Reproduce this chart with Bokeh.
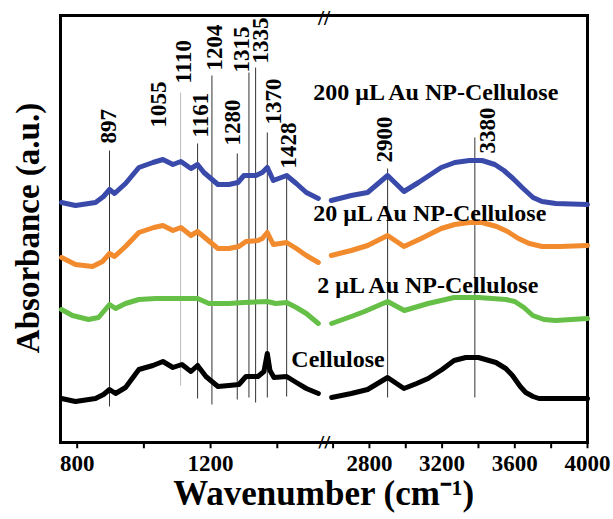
import numpy as np
from math import pi
from bokeh.plotting import figure
from bokeh.models import Range1d, FixedTicker, CustomJSTickFormatter, LinearAxis
from bokeh.core.properties import value
from bokeh.embed import file_html
from bokeh.resources import INLINE

# ---------------- data (wavenumber in cm-1, absorbance in a.u., offset stacked) -------------
# Cellulose
cel_wn_l = [753, 795, 855, 879, 897, 915, 945, 985, 1027, 1057, 1087, 1114, 1141, 1161, 1186,
            1222, 1255, 1285, 1306, 1342, 1360, 1370, 1378, 1390, 1428, 1457, 1487, 1523]
cel_ab_l = [0.44, 0.41, 0.44, 0.48, 0.53, 0.49, 0.55, 0.73, 0.77, 0.81, 0.75, 0.78, 0.71, 0.77, 0.66,
            0.56, 0.57, 0.58, 0.66, 0.66, 0.71, 0.89, 0.72, 0.65, 0.66, 0.60, 0.54, 0.49]
cel_wn_r = [2592, 2700, 2790, 2900, 2990, 3060, 3123, 3200, 3266, 3330, 3400, 3496, 3550, 3587,
            3630, 3660, 3700, 3733, 3850, 4000]
cel_ab_r = [0.45, 0.49, 0.53, 0.65, 0.54, 0.59, 0.64, 0.73, 0.82, 0.85, 0.85, 0.80, 0.74, 0.67,
            0.56, 0.50, 0.46, 0.44, 0.44, 0.44]

# 2 uL Au NP-Cellulose
s2_wn_l = [753, 786, 834, 864, 897, 915, 945, 985, 1036, 1135, 1161, 1195, 1255, 1300, 1370,
           1395, 1428, 1457, 1487, 1523]
s2_ab_l = [1.33, 1.27, 1.23, 1.25, 1.38, 1.34, 1.39, 1.43, 1.44, 1.44, 1.44, 1.39, 1.39, 1.40, 1.41,
           1.39, 1.40, 1.35, 1.29, 1.19]
s2_wn_r = [2592, 2700, 2773, 2900, 2992, 3123, 3266, 3400, 3551, 3600, 3650, 3699, 3760, 3825, 4000]
s2_ab_r = [1.19, 1.26, 1.31, 1.41, 1.32, 1.39, 1.45, 1.45, 1.43, 1.41, 1.35, 1.27, 1.23, 1.22, 1.24]

# 20 uL Au NP-Cellulose
s20_wn_l = [753, 795, 846, 876, 897, 912, 945, 985, 1030, 1057, 1087, 1111, 1141, 1161, 1186,
            1222, 1255, 1285, 1306, 1342, 1355, 1370, 1388, 1428, 1457, 1487, 1523]
s20_ab_l = [1.85, 1.78, 1.76, 1.81, 1.89, 1.86, 1.96, 2.10, 2.15, 2.17, 2.12, 2.15, 2.07, 2.11, 2.04,
            1.94, 1.94, 1.96, 2.01, 2.02, 2.04, 2.10, 1.98, 2.00, 1.94, 1.87, 1.80]
s20_wn_r = [2590, 2700, 2790, 2900, 2990, 3085, 3195, 3270, 3350, 3420, 3500, 3560, 3620, 3680,
            3750, 3850, 4000]
s20_ab_r = [1.87, 1.92, 1.97, 2.07, 1.96, 2.04, 2.14, 2.18, 2.20, 2.20, 2.16, 2.11, 2.04, 1.99,
            1.96, 1.96, 1.97]

# 200 uL Au NP-Cellulose
s200_wn_l = [753, 795, 855, 879, 897, 912, 945, 985, 1027, 1057, 1087, 1111, 1141, 1161, 1180,
             1222, 1255, 1282, 1300, 1336, 1355, 1370, 1388, 1428, 1457, 1487, 1523]
s200_ab_l = [2.40, 2.37, 2.40, 2.46, 2.53, 2.49, 2.59, 2.75, 2.80, 2.83, 2.78, 2.81, 2.74, 2.78, 2.70,
             2.58, 2.58, 2.60, 2.67, 2.67, 2.70, 2.75, 2.62, 2.67, 2.59, 2.50, 2.44]
s200_wn_r = [2590, 2700, 2790, 2900, 2990, 3070, 3195, 3270, 3350, 3420, 3490, 3540, 3590, 3640,
             3700, 3750, 3825, 4000]
s200_ab_r = [2.42, 2.47, 2.50, 2.67, 2.51, 2.60, 2.75, 2.80, 2.82, 2.82, 2.78, 2.72, 2.64, 2.55,
             2.45, 2.41, 2.39, 2.38]

series_names = ["Cellulose", "2 \u03bcL Au NP-Cellulose", "20 \u03bcL Au NP-Cellulose",
                "200 \u03bcL Au NP-Cellulose"]

# peak marker lines
peak_wn = [897, 1110, 1161, 1204, 1280, 1315, 1335, 1370, 1428, 2900, 3380]
peak_top = [2.92, 3.50, 2.99, 3.67, 2.89, 3.70, 3.75, 3.10, 2.69, 2.74, 3.05]
peak_bottom = [0.36, 0.57, 0.44, 0.38, 0.43, 0.45, 0.40, 0.45, 0.46, 0.45, 0.45]

# peak annotations
peak_text = ["897", "1055", "1110", "1161", "1204", "1280", "1315", "1335", "1370", "1428",
             "2900", "3380"]
peak_text_wn = [894, 1043, 1118, 1170, 1213, 1266, 1293, 1350, 1389, 1433, 2885, 3449]
peak_text_y = [2.99, 3.15, 3.59, 3.05, 3.72, 2.97, 3.70, 3.79, 3.18, 2.74, 2.80, 2.89]

major_ticks = [800, 1200, 2800, 3200, 3600, 4000]
minor_ticks = [1000, 1400, 2600, 3000, 3400, 3800]

# ---------------- broken x axis ----------------
X_START, BREAK_LO, BREAK_HI, X_END = 750, 1540, 2550, 4000
Y_MAX = 4.27
U_BREAK = 0.5


def to_u(w):
    w = np.asarray(w, dtype=float)
    return np.where(w <= BREAK_LO,
                    (w - X_START) / (BREAK_LO - X_START) * U_BREAK,
                    U_BREAK + (w - BREAK_HI) / (X_END - BREAK_HI) * (1 - U_BREAK))


def flist(a):
    return [float(v) for v in np.atleast_1d(a)]


FONT = "Liberation Serif"
SERIF = value(FONT)

# the plot box spans u = 0..1 and y = 0..Y_MAX; the frame is a little larger so that the
# box border, the tick marks and the axis-break marks are all drawn inside it
BOX_W_PX = 527.0
PAD = 3.0 / BOX_W_PX
p = figure(width=613, height=519, title=None,
           x_range=Range1d(-PAD, 1 + PAD), y_range=Range1d(-0.06, Y_MAX + 0.08),
           x_axis_location=None, y_axis_location=None,
           output_backend="svg", toolbar_location=None,
           min_border_left=57, min_border_right=23, min_border_top=7, min_border_bottom=71)
p.grid.visible = False
p.outline_line_color = None
p.background_fill_color = "white"
p.border_fill_color = "white"

# x axis: tick labels and title
xax = LinearAxis(
    ticker=FixedTicker(ticks=flist(to_u(major_ticks)), minor_ticks=[]),
    formatter=CustomJSTickFormatter(
        args=dict(x0=X_START, b0=BREAK_LO, b1=BREAK_HI, x1=X_END, ub=U_BREAK),
        code="""
        let w;
        if (tick <= ub) { w = x0 + tick / ub * (b0 - x0); }
        else { w = b1 + (tick - ub) / (1 - ub) * (x1 - b1); }
        return Math.round(w).toString();
        """),
    axis_line_color=None, major_tick_line_color=None, minor_tick_line_color=None,
    major_tick_out=0, minor_tick_out=0, major_tick_in=0, minor_tick_in=0,
    major_label_standoff=7, major_label_text_font=FONT, major_label_text_font_style="bold",
    major_label_text_font_size="23px", major_label_text_color="black",
    axis_label="Wavenumber (cm\u207b\u00b9)", axis_label_standoff=0,
    axis_label_text_font=FONT, axis_label_text_font_style="bold",
    axis_label_text_font_size="35px", axis_label_text_color="black")
p.add_layout(xax, "below")

# y axis: title only
yax = LinearAxis(
    ticker=FixedTicker(ticks=[], minor_ticks=[]),
    axis_line_color=None, major_tick_line_color=None, minor_tick_line_color=None,
    major_tick_out=0, minor_tick_out=0, major_tick_in=0, minor_tick_in=0,
    major_label_standoff=0, major_label_text_color=None,
    axis_label="Absorbance (a.u.)", axis_label_standoff=12,
    axis_label_text_font=FONT, axis_label_text_font_style="bold",
    axis_label_text_font_size="33px", axis_label_text_color="black")
p.add_layout(yax, "left")

# plot box border (edges of the data ranges)
p.multi_line(xs=[[0, 0], [1, 1], [0, 1], [0, 1]],
             ys=[[0, Y_MAX], [0, Y_MAX], [0, 0], [Y_MAX, Y_MAX]],
             line_color="black", line_width=3, line_cap="square")

# tick marks (pointing outwards)
tick_u = to_u(major_ticks + minor_ticks)
p.segment(x0=tick_u, x1=tick_u, y0=np.zeros(len(tick_u)), y1=np.full(len(tick_u), -0.06),
          line_color="black", line_width=2)

# axis-break marks on the top and bottom border
p.text(x=[U_BREAK, U_BREAK], y=[Y_MAX - 0.015, 0.005], text=["//", "//"],
       text_align="center", text_baseline="middle", text_font=SERIF,
       text_font_style="bold", text_font_size="22px", text_color="black")

# peak lines
line_colors = ["#333333"] * len(peak_wn)
line_colors[peak_wn.index(1110)] = "#bbbbbb"
p.segment(x0=to_u(peak_wn), x1=to_u(peak_wn), y0=peak_bottom, y1=peak_top,
          line_color=line_colors, line_width=1)

# spectra
colors = ["black", "#66bf47", "#f28a2e", "#3a4aaa"]
segments = [
    (cel_wn_l, cel_ab_l, cel_wn_r, cel_ab_r),
    (s2_wn_l, s2_ab_l, s2_wn_r, s2_ab_r),
    (s20_wn_l, s20_ab_l, s20_wn_r, s20_ab_r),
    (s200_wn_l, s200_ab_l, s200_wn_r, s200_ab_r),
]
for (wl, al, wr, ar), c in zip(segments, colors):
    p.line(to_u(wl), al, line_color=c, line_width=5, line_join="round", line_cap="round")
    p.line(to_u(wr), ar, line_color=c, line_width=5, line_join="round", line_cap="round")

# peak labels (rotated)
p.text(x=to_u(peak_text_wn), y=peak_text_y, text=peak_text, angle=pi / 2,
       text_align="left", text_baseline="middle", text_font=SERIF,
       text_font_style="bold", text_font_size="23px", text_color="black")

# series labels
series_label_wn = [1442, 1520, 1508, 1508]
series_label_y = [0.835, 1.575, 2.295, 3.505]
p.text(x=to_u(series_label_wn), y=series_label_y, text=series_names,
       text_align="left", text_baseline="middle", text_font=SERIF,
       text_font_style="bold", text_font_size="24px", text_color="black")

open("out.html", "w").write(file_html(p, INLINE))
